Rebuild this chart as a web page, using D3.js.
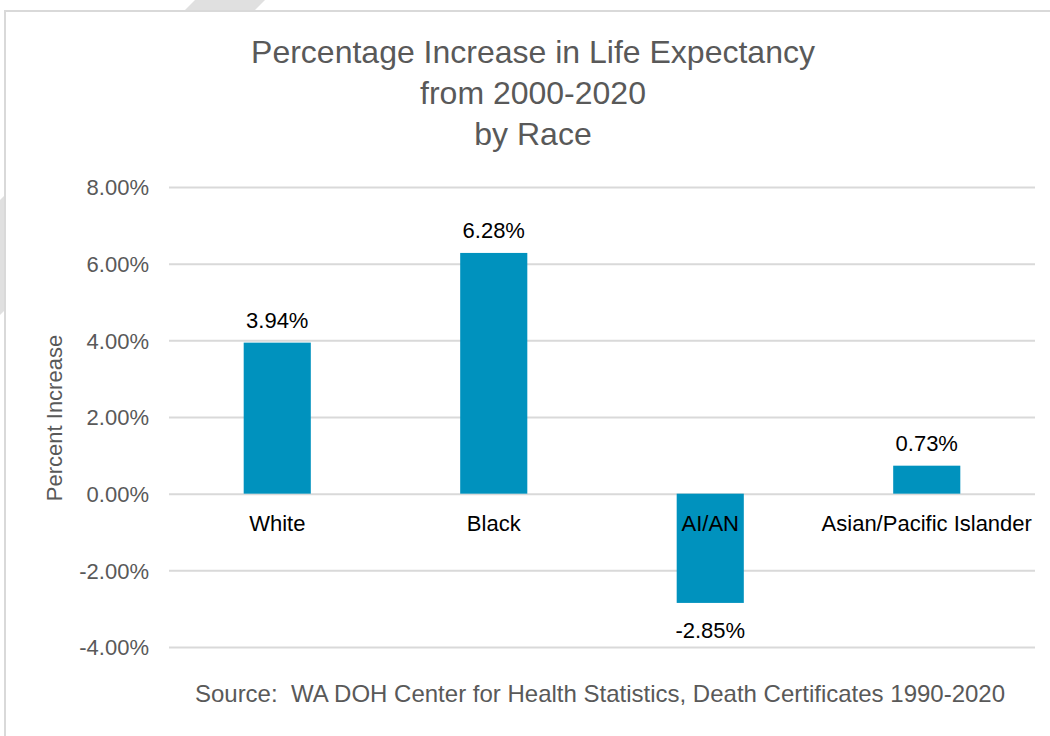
<!DOCTYPE html>
<html>
<head>
<meta charset="utf-8">
<script src="https://cdn.jsdelivr.net/npm/d3@7"></script>
<style>
  body { margin: 0; background: #fff; }
  svg { display: block; font-family: "Liberation Sans", Arial, sans-serif; }
</style>
</head>
<body>
<div id="graph"></div>
<script>
// Donnees du graphique
var races = ["White", "Black", "AI/AN", "Asian/Pacific Islander"];
var increases = [3.94, 6.28, -2.85, 0.73];
var yTicks = [-4, -2, 0, 2, 4, 6, 8];
var titleLines = ["Percentage Increase in Life Expectancy", "from 2000-2020", "by Race"];
var sourceText = "Source:  WA DOH Center for Health Statistics, Death Certificates 1990-2020";

var W = 1050, H = 736;
var margin = {top: 187, right: 15, bottom: 89, left: 169};
var width = W - margin.left - margin.right,
    height = H - margin.top - margin.bottom;

var svg = d3.select("#graph").append("svg")
    .attr("width", W)
    .attr("height", H);

// Filigrane gris en arriere-plan
svg.append("polygon").attr("points", "195,0 265,0 254,11 184,11").attr("fill", "#e0e0e0");
svg.append("polygon").attr("points", "0,200 5,195 5,310 0,315").attr("fill", "#e0e0e0");

// bordure (haut et gauche)
svg.append("path")
    .attr("d", "M5," + H + " L5,11 L" + W + ",11")
    .attr("fill", "none")
    .attr("stroke", "#d9d9d9")
    .attr("stroke-width", 2);

var g = svg.append("g")
    .attr("transform", "translate(" + margin.left + "," + margin.top + ")");

var x = d3.scaleBand()
    .domain(races)
    .range([0, width])
    .paddingInner(0.69)
    .paddingOuter(0.345);

var y = d3.scaleLinear()
    .domain([-4, 8])
    .range([height, 0]);

// Grille
g.append("g")
    .call(d3.axisLeft(y).tickValues(yTicks).tickSize(-width).tickFormat(function(d) { return d.toFixed(2) + "%"; }).tickPadding(20))
    .call(function(ax) {
      ax.select(".domain").remove();
      ax.selectAll(".tick line").attr("stroke", "#d9d9d9").attr("stroke-width", 2);
      ax.selectAll(".tick text").attr("fill", "#595959").attr("font-size", 22)
        .attr("font-family", "'Liberation Sans', Arial, sans-serif").attr("dy", "0.36em");
    });

// Barres
g.selectAll(".bar")
  .data(increases)
  .enter().append("rect")
    .attr("class", "bar")
    .attr("x", function(d, i) { return x(races[i]); })
    .attr("width", x.bandwidth())
    .attr("y", function(d) { return y(Math.max(0, d)); })
    .attr("height", function(d) { return Math.abs(y(d) - y(0)); })
    .attr("fill", "#0092be");

// Etiquettes de valeurs
g.selectAll(".val")
  .data(increases)
  .enter().append("text")
    .attr("x", function(d, i) { return x(races[i]) + x.bandwidth() / 2; })
    .attr("y", function(d) { return d >= 0 ? y(d) - 15 : y(d) + 35; })
    .attr("text-anchor", "middle")
    .attr("font-size", 22)
    .attr("fill", "#000")
    .text(function(d) { return d.toFixed(2) + "%"; });

// Etiquettes de categories
g.selectAll(".cat")
  .data(races)
  .enter().append("text")
    .attr("x", function(d) { return x(d) + x.bandwidth() / 2; })
    .attr("y", y(0) + 37)
    .attr("text-anchor", "middle")
    .attr("font-size", 22)
    .attr("fill", "#000")
    .text(function(d) { return d; });

// Titre de l'axe Y
svg.append("text")
    .attr("transform", "translate(62,418) rotate(-90)")
    .attr("text-anchor", "middle")
    .attr("font-size", 22)
    .attr("fill", "#595959")
    .text("Percent Increase");

// Titre
svg.append("text")
    .attr("x", 533)
    .attr("y", 63)
    .attr("text-anchor", "middle")
    .attr("font-size", 32)
    .attr("fill", "#595959")
    .selectAll("tspan")
    .data(titleLines)
    .enter().append("tspan")
      .attr("x", 533)
      .attr("dy", function(d, i) { return i === 0 ? 0 : 41; })
      .text(function(d) { return d; });

// Source
svg.append("text")
    .attr("x", 600)
    .attr("y", 702)
    .attr("text-anchor", "middle")
    .attr("font-size", 24)
    .attr("fill", "#595959")
    .style("white-space", "pre")
    .text(sourceText);
</script>
</body>
</html>
